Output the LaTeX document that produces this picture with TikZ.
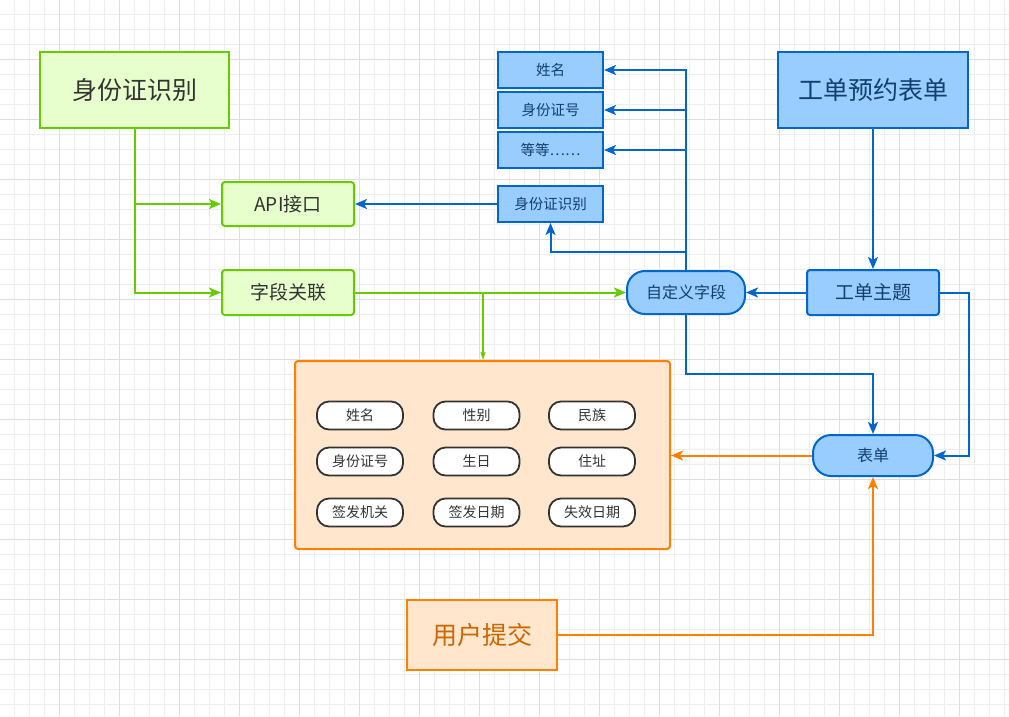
\documentclass[tikz,border=0pt]{standalone}
\usepackage{fontspec}
\setmainfont{Noto Sans CJK SC}
\usetikzlibrary{arrows.meta}
\definecolor{gstroke}{HTML}{66CC00}
\definecolor{gfill}{HTML}{E6FFCC}
\definecolor{bstroke}{HTML}{0066CC}
\definecolor{bfill}{HTML}{99CCFF}
\definecolor{btext}{HTML}{123F6E}
\definecolor{ostroke}{HTML}{FF8000}
\definecolor{ofill}{HTML}{FFE6CC}
\definecolor{otext}{HTML}{CC6600}
\definecolor{dtext}{HTML}{333333}
\definecolor{gridminor}{HTML}{EEEEEE}
\definecolor{gridmajor}{HTML}{DEDEDE}
\tikzset{
  box/.style={draw, line width=2pt, inner sep=0pt, align=center},
  gbox/.style={box, draw=gstroke, fill=gfill, text=dtext},
  bbox/.style={box, draw=bstroke, fill=bfill, text=btext},
  obox/.style={box, draw=ostroke, fill=ofill},
  pill/.style={draw=dtext, line width=1.8pt, fill=white, rounded corners=12pt, minimum width=86pt, minimum height=28pt, inner sep=0pt, text=dtext, font=\fontsize{14}{16}\selectfont},
  tip/.style={-{Stealth[length=12pt,width=10pt,inset=3pt]}},
  gline/.style={draw=gstroke, line width=2pt},
  bline/.style={draw=bstroke, line width=2pt},
  oline/.style={draw=ostroke, line width=2pt},
}
\begin{document}
\begin{tikzpicture}[x=1pt,y=-1pt]
\useasboundingbox (0,0) rectangle (1009,716);
\fill[white] (0,0) rectangle (1009,716);
% grid
\foreach \v in {14,29,...,1009} {
  \draw[gridminor, line width=1pt] (\v,0) -- (\v,716);
}
\foreach \v in {14,29,...,716} {
  \draw[gridminor, line width=1pt] (0,\v) -- (1009,\v);
}
\foreach \v in {59,119,...,1009} {
  \draw[gridmajor, line width=1pt] (\v,0) -- (\v,716);
}
\foreach \v in {59,119,...,716} {
  \draw[gridmajor, line width=1pt] (0,\v) -- (1009,\v);
}

% green nodes
\node[gbox, minimum width=189pt, minimum height=76pt, font=\fontsize{25}{29}\selectfont] (idbig) at (134.5,90) {身份证识别};
\node[gbox, rounded corners=3pt, minimum width=132pt, minimum height=44pt, font=\fontsize{19}{22}\selectfont] (api) at (288,204) {API接口};
\node[gbox, rounded corners=3pt, minimum width=132pt, minimum height=45pt, font=\fontsize{19}{22}\selectfont] (assoc) at (288,292.5) {字段关联};

% blue small boxes
\node[bbox, minimum width=105pt, minimum height=36pt, font=\fontsize{14.5}{17}\selectfont] (n1) at (550.5,70) {姓名};
\node[bbox, minimum width=105pt, minimum height=36pt, font=\fontsize{14.5}{17}\selectfont] (n2) at (550.5,110) {身份证号};
\node[bbox, minimum width=105pt, minimum height=36pt, font=\fontsize{14.5}{17}\selectfont] (n3) at (550.5,150) {等等……};
\node[bbox, minimum width=105pt, minimum height=36pt, font=\fontsize{14.5}{17}\selectfont] (sid) at (550.5,204) {身份证识别};

\node[bbox, rounded corners=18pt, minimum width=118pt, minimum height=43pt, font=\fontsize{16}{19}\selectfont] (cf) at (686,292.5) {自定义字段};
\node[bbox, minimum width=190pt, minimum height=76pt, font=\fontsize{25}{29}\selectfont] (wo) at (873,90) {工单预约表单};
\node[bbox, rounded corners=3pt, minimum width=132pt, minimum height=45pt, font=\fontsize{19}{22}\selectfont] (topic) at (873,292.5) {工单主题};
\node[bbox, rounded corners=18pt, minimum width=120pt, minimum height=41pt, font=\fontsize{16}{19}\selectfont] (form) at (873,455.5) {表单};

% orange container
\node[obox, rounded corners=3pt, minimum width=375pt, minimum height=188pt] (cont) at (482.5,455) {};
\node[pill] (p11) at (360,415.5) {姓名};
\node[pill] (p12) at (476.5,415.5) {性别};
\node[pill] (p13) at (592,415.5) {民族};
\node[pill] (p21) at (360,461.5) {身份证号};
\node[pill] (p22) at (476.5,461.5) {生日};
\node[pill] (p23) at (592,461.5) {住址};
\node[pill] (p31) at (360,512.5) {签发机关};
\node[pill] (p32) at (476.5,512.5) {签发日期};
\node[pill] (p33) at (592,512.5) {失效日期};

\node[obox, text=otext, minimum width=150pt, minimum height=70pt, font=\fontsize{25}{29}\selectfont] (user) at (482,635) {用户提交};

% green connectors
\draw[gline, tip] (idbig.south) |- (assoc.west);
\draw[gline, tip] (idbig.south |- api.west) -- (api.west);
\draw[gline, tip] (assoc.east) -- (cf.west);
\coordinate (gb) at (483,292.5);
\draw[gline, -{Stealth[length=8pt,width=5pt,inset=1.5pt]}] (gb) -- (gb |- cont.north);

% blue connectors
\draw[bline, tip] (cf.north) |- (n1.east);
\draw[bline, tip] (cf.north |- n2.east) -- (n2.east);
\draw[bline, tip] (cf.north |- n3.east) -- (n3.east);
\coordinate (bj) at (686,252);
\draw[bline, tip] (bj) -| (sid.south);
\draw[bline, tip] (sid.west) -- (api.east);
\draw[bline, tip] (wo.south) -- (topic.north);
\draw[bline, tip] (topic.west) -- (cf.east);
\coordinate (rt) at (969,292.5);
\draw[bline, tip] (topic.east) -- (rt) |- (form.east);
\coordinate (cb) at (686,374);
\draw[bline, tip] (cf.south) -- (cb) -| (form.north);

% orange connectors
\draw[oline, tip] (form.west) -- (form.west -| cont.east);
\draw[oline, tip] (user.east) -| (form.south);
\end{tikzpicture}
\end{document}
